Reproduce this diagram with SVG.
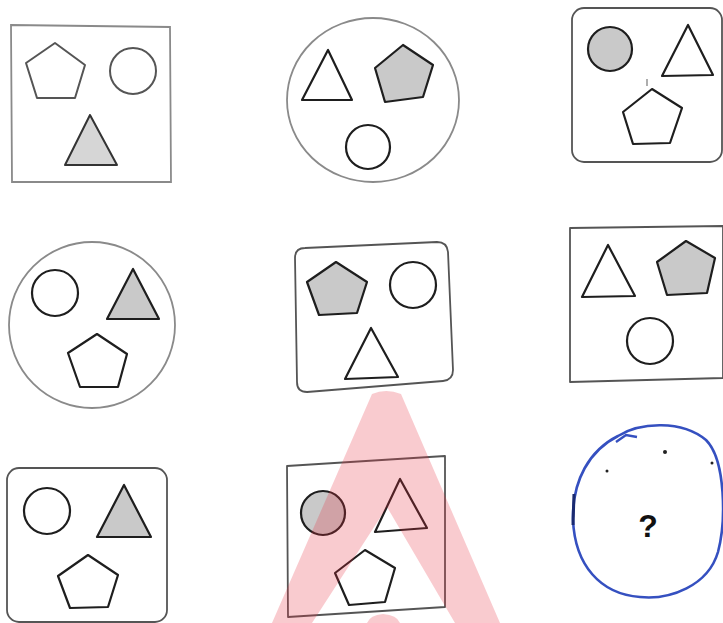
<svg xmlns="http://www.w3.org/2000/svg" width="723" height="623" viewBox="0 0 723 623">
<style>
.frame{fill:none;stroke:#555;stroke-width:1.8;stroke-linejoin:round}
.light{fill:none;stroke:#8a8a8a;stroke-width:1.8}
.sh{fill:#fff;stroke:#1e1e1e;stroke-width:2.2;stroke-linejoin:round}
.shl{fill:#fff;stroke:#555;stroke-width:2;stroke-linejoin:round}
.fill{fill:#c9c9c9;stroke:#1e1e1e;stroke-width:2.2;stroke-linejoin:round}
.fill2{fill:#d6d6d6;stroke:#333;stroke-width:2;stroke-linejoin:round}
.blue{fill:none;stroke:#3550c0;stroke-width:2.6;stroke-linejoin:round}
.q{font-family:"Liberation Sans",Arial,sans-serif;font-weight:bold;font-size:32px;fill:#111}
.wm{fill:#e6303f;fill-opacity:0.25}
</style>
<rect width="723" height="623" fill="#fff"/>

<g id="cell-1-1">
<path class="light" d="M11,25 L170,27 L171,182 L12,182 Z"/>
<polygon class="shl" points="55,43 85,65 75,98 37,98 26,63"/>
<circle class="shl" cx="133" cy="71" r="23"/>
<polygon class="fill2" points="90,115 65,165 117,165"/>
</g>

<g id="cell-1-2">
<ellipse class="light" cx="373" cy="100" rx="86" ry="82"/>
<polygon class="sh" points="328,50 302,100 352,100"/>
<polygon class="fill" points="403,45 433,65 423,97 385,102 375,68"/>
<circle class="sh" cx="368" cy="147" r="22"/>
</g>

<g id="cell-1-3">
<rect class="frame" x="572" y="8" width="150" height="154" rx="12"/>
<circle class="fill" cx="610" cy="49" r="22" fill="#cdcdd2"/>
<polygon class="sh" points="688,25 662,76 713,75"/>
<polygon class="sh" points="652,89 682,108 670,143 633,144 623,112"/>
<path d="M647,79 L647,86" stroke="#777" stroke-width="1.2"/>
</g>

<g id="cell-2-1">
<circle class="light" cx="92" cy="325" r="83"/>
<circle class="sh" cx="55" cy="293" r="23"/>
<polygon class="fill" points="133,269 107,319 159,319"/>
<polygon class="sh" points="97,334 127,354 118,387 80,387 68,353"/>
</g>

<g id="cell-2-2">
<path class="frame" d="M305,248 L437,242 Q447,242 448,252 L453,370 Q453,380 443,381 L307,392 Q297,392 297,382 L295,258 Q295,248 305,248 Z" stroke="#333"/>
<polygon class="fill" points="336,262 367,282 357,313 319,315 307,282"/>
<circle class="sh" cx="413" cy="285" r="23"/>
<polygon class="sh" points="371,328 345,379 398,377"/>
</g>

<g id="cell-2-3">
<path class="frame" d="M570,228 L723,226 L723,378 L570,382 Z" stroke="#444" stroke-width="2"/>
<polygon class="sh" points="608,245 582,297 635,296"/>
<polygon class="fill" points="686,241 715,258 707,293 667,295 657,262"/>
<circle class="sh" cx="650" cy="341" r="23"/>
</g>

<g id="cell-3-1">
<rect class="frame" x="7" y="468" width="160" height="154" rx="12"/>
<circle class="sh" cx="47" cy="511" r="23"/>
<polygon class="fill" points="124,485 97,537 151,537"/>
<polygon class="sh" points="88,555 118,575 108,607 70,608 58,576"/>
</g>

<g id="cell-3-2">
<path class="frame" d="M287,466 L445,456 L445,607 L288,617 Z" stroke="#222" stroke-width="2"/>
<circle class="fill" cx="323" cy="513" r="22"/>
<polygon class="sh" points="400,479 375,532 427,528"/>
<polygon class="sh" points="365,550 395,568 385,602 349,605 335,573"/>
</g>

<g id="cell-3-3">
<path class="blue" d="M618,436 C640,422 682,420 706,440 C726,460 726,522 718,552 C708,586 670,600 640,597 C600,594 575,565 573,520 C572,480 590,450 618,436 Z"/>
<path d="M574,494 L573,525" stroke="#1a2a70" stroke-width="3" fill="none"/>
<path d="M616,442 L626,435 L637,437" stroke="#3550c0" stroke-width="2.4" fill="none"/>
<circle cx="607" cy="471" r="1.5" fill="#222"/>
<circle cx="665" cy="452" r="2" fill="#222"/>
<circle cx="712" cy="463" r="1.5" fill="#222"/>
<text class="q" x="648" y="537" text-anchor="middle">?</text>
</g>

<g id="watermark">
<path class="wm" fill-rule="evenodd" d="M372,394 Q386,388 401,394 L500,623 L455,623 L387,507 L312,623 L272,623 Z"/>
<path class="wm" d="M367,623 Q370,615 383,614 Q397,615 400,623 Z"/>
</g>
</svg>
